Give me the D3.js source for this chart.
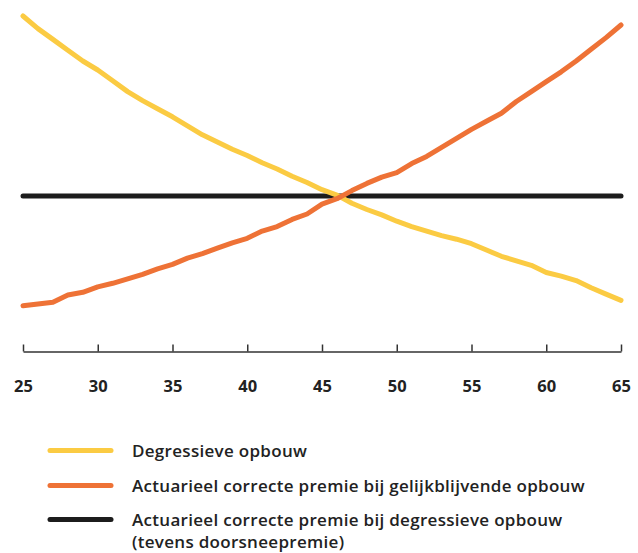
<!DOCTYPE html>
<html>
<head>
<meta charset="utf-8">
<script src="https://cdn.jsdelivr.net/npm/d3@7"></script>
<style>
  html, body { margin: 0; padding: 0; background: #fff; }
  svg { display: block; }
  text { font-family: "Open Sans", "DejaVu Sans", sans-serif; font-weight: 700; fill: #222; }
</style>
</head>
<body>
<svg id="chart" width="638" height="553"></svg>
<script>
const ages = d3.range(25, 66);
const tickLabels = [25, 30, 35, 40, 45, 50, 55, 60, 65];

const degressieve = [200, 193, 187, 181, 175, 170, 164, 158, 153, 148.5, 144, 139, 134, 130, 126, 122.5, 118.5, 115, 111, 107.5, 103.5, 100.5, 96, 92.5, 89.5, 86, 83, 80.5, 78, 76, 73.5, 70, 66.5, 64, 61.5, 57.5, 55.5, 53, 49, 45.5, 42];
const gelijkblijvend = [39, 40, 41, 45, 46.5, 49.5, 51.5, 54, 56.5, 59.5, 62, 65.5, 68, 71, 74, 76.5, 80.5, 83, 87, 90, 95.5, 98.5, 103, 107, 110.5, 113, 118, 122, 127, 132, 137, 141.5, 146, 152.5, 158, 163.5, 169, 175, 181.5, 188, 195];
const doorsnee = ages.map(() => 100);

const seriesNames = [
  ["Degressieve opbouw"],
  ["Actuarieel correcte premie bij gelijkblijvende opbouw"],
  ["Actuarieel correcte premie bij degressieve opbouw", "(tevens doorsneepremie)"]
];
const seriesColors = ["#FBCB43", "#EE7236", "#1c1c1c"];
const seriesValues = [degressieve, gelijkblijvend, doorsnee];

const svg = d3.select("#chart");
const x = d3.scaleLinear().domain([25, 65]).range([23, 621]);
const y = d3.scaleLinear().domain([0, 200]).range([376, 16]);

// axis
const axis = d3.axisBottom(x).tickValues(tickLabels).tickSize(-7).tickSizeOuter(0).tickPadding(0).tickFormat(d3.format("d"));
const gAxis = svg.append("g").attr("transform", "translate(0,351.5)").call(axis);
gAxis.select(".domain").attr("stroke", "#333").attr("stroke-width", 1.5);
gAxis.selectAll(".tick line").attr("stroke", "#333").attr("stroke-width", 1.5);
gAxis.selectAll(".tick text")
  .attr("y", 0).attr("dy", "40.5px")
  .style("font-family", "'Open Sans', 'DejaVu Sans', sans-serif")
  .style("font-weight", 700)
  .style("font-size", "16.5px")
  .attr("fill", "#222");

const line = d3.line().x((d, i) => x(ages[i])).y(d => y(d));

const drawOrder = [2, 0, 1];
drawOrder.forEach(k => {
  svg.append("path")
    .datum(seriesValues[k])
    .attr("d", line)
    .attr("fill", "none")
    .attr("stroke", seriesColors[k])
    .attr("stroke-width", 5)
    .attr("stroke-linecap", "round")
    .attr("stroke-linejoin", "round");
});

// legend
const legendY = [450.5, 485.5, 519.5];
seriesNames.forEach((lines, i) => {
  const g = svg.append("g").attr("transform", `translate(0,${legendY[i]})`);
  g.append("line")
    .attr("x1", 50).attr("x2", 111)
    .attr("y1", 0).attr("y2", 0)
    .attr("stroke", seriesColors[i])
    .attr("stroke-width", 5)
    .attr("stroke-linecap", "round");
  lines.forEach((t, j) => {
    g.append("text")
      .attr("x", 132)
      .attr("y", 6 + j * 22.5)
      .style("font-size", "17px")
      .style("font-weight", 600)
      .style("letter-spacing", "0.3px")
      .text(t);
  });
});
</script>
</body>
</html>
